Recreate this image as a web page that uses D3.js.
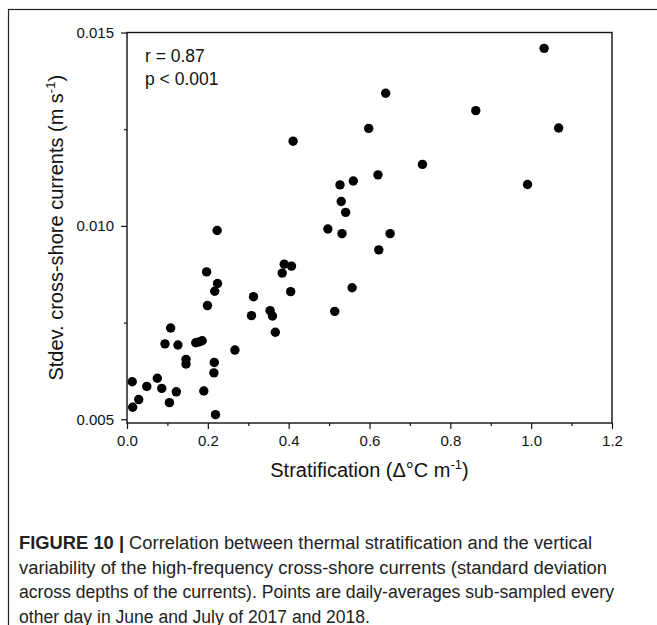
<!DOCTYPE html>
<html>
<head>
<meta charset="utf-8">
<script src="https://cdn.jsdelivr.net/npm/d3@7"></script>
<style>
  html, body { margin: 0; padding: 0; background: #fff; }
  svg { display: block; }
</style>
</head>
<body>
<svg id="chart" width="657" height="625"></svg>
<script>
// ---- data ----
const stratification = [
  0.013, 0.014, 0.029, 0.049, 0.075, 0.086, 0.105, 0.122, 0.094, 0.108,
  0.126, 0.146, 0.146, 0.170, 0.178, 0.186, 0.190, 0.197, 0.199, 0.216,
  0.215, 0.219, 0.217, 0.224, 0.223, 0.267, 0.308, 0.313, 0.354, 0.360,
  0.367, 0.384, 0.389, 0.407, 0.405, 0.411, 0.497, 0.514, 0.532, 0.527,
  0.530, 0.541, 0.557, 0.560, 0.598, 0.621, 0.623, 0.640, 0.651, 0.731,
  0.863, 0.991, 1.032, 1.068
];
const stdevCurrents = [
  0.00597, 0.00531, 0.00551, 0.00585, 0.00606, 0.00580, 0.00543, 0.00571, 0.00695, 0.00736,
  0.00692, 0.00655, 0.00643, 0.00698, 0.00700, 0.00703, 0.00573, 0.00881, 0.00794, 0.00647,
  0.00620, 0.00512, 0.00831, 0.00851, 0.00988, 0.00679, 0.00768, 0.00817, 0.00781, 0.00767,
  0.00725, 0.00878, 0.00901, 0.00896, 0.00830, 0.01219, 0.00992, 0.00779, 0.00980, 0.01106,
  0.01063, 0.01035, 0.00840, 0.01116, 0.01252, 0.01132, 0.00938, 0.01343, 0.00980, 0.01159,
  0.01298, 0.01107, 0.01459, 0.01253
];
const xMajorTicks = [0, 0.2, 0.4, 0.6, 0.8, 1.0, 1.2];
const xMinorTicks = [0.1, 0.3, 0.5, 0.7, 0.9, 1.1];
const yMajorTicks = [0.005, 0.010, 0.015];
const yMinorTicks = [0.0075, 0.0125];
const statsLines = ["r = 0.87", "p < 0.001"];
const captionLines = [
  ["FIGURE 10 |", " Correlation between thermal stratification and the vertical"],
  ["", "variability of the high-frequency cross-shore currents (standard deviation"],
  ["", "across depths of the currents). Points are daily-averages sub-sampled every"],
  ["", "other day in June and July of 2017 and 2018."]
];

(function () {
// ---- layout ----
const svg = d3.select("#chart");
const pLeft = 127, pRight = 612, pTop = 32.5, pBottom = 423;
const font = "Liberation Sans, Arial, Helvetica, sans-serif";
const captionWidths = [573, 588, 595, 351];

// outer frame
svg.append("rect")
  .attr("x", 8.5).attr("y", 9.5).attr("width", 700).attr("height", 700)
  .attr("fill", "none").attr("stroke", "#222").attr("stroke-width", 1.2);

const x = d3.scaleLinear().domain([0, 1.2]).range([pLeft, pRight]);
const y = d3.scaleLinear().domain([0.004904, 0.015]).range([pBottom, pTop]);

// x axis
const xAxis = d3.axisBottom(x).tickValues(xMajorTicks).tickSize(6).tickSizeOuter(0)
  .tickFormat(d3.format(".1f"));
const gx = svg.append("g").attr("transform", `translate(0,${pBottom})`).call(xAxis);
gx.select(".domain").remove();
gx.selectAll("text").attr("font-family", font).attr("font-size", 15).attr("fill", "#111").attr("dy", "0.93em");
gx.selectAll("line").attr("stroke", "#111").attr("stroke-width", 1.2);
const gxm = svg.append("g").attr("transform", `translate(0,${pBottom})`)
  .call(d3.axisBottom(x).tickValues(xMinorTicks).tickSize(3).tickSizeOuter(0).tickFormat(""));
gxm.select(".domain").remove();
gxm.selectAll("line").attr("stroke", "#111").attr("stroke-width", 1.2);

// y axis
const yAxis = d3.axisLeft(y).tickValues(yMajorTicks).tickSize(6).tickSizeOuter(0)
  .tickFormat(d3.format(".3f")).tickPadding(7);
const gy = svg.append("g").attr("transform", `translate(${pLeft},0)`).call(yAxis);
gy.select(".domain").remove();
gy.selectAll("text").attr("font-family", font).attr("font-size", 15).attr("fill", "#111");
gy.selectAll("line").attr("stroke", "#111").attr("stroke-width", 1.2);
const gym = svg.append("g").attr("transform", `translate(${pLeft},0)`)
  .call(d3.axisLeft(y).tickValues(yMinorTicks).tickSize(3).tickSizeOuter(0).tickFormat(""));
gym.select(".domain").remove();
gym.selectAll("line").attr("stroke", "#111").attr("stroke-width", 1.2);

// plot frame
svg.append("rect")
  .attr("x", pLeft).attr("y", pTop).attr("width", pRight - pLeft).attr("height", pBottom - pTop)
  .attr("fill", "none").attr("stroke", "#111").attr("stroke-width", 1.4);

// points
const pts = stratification.map((v, i) => ({ sx: v, sy: stdevCurrents[i] }));
svg.append("g").selectAll("circle").data(pts).join("circle")
  .attr("cx", d => x(d.sx)).attr("cy", d => y(d.sy)).attr("r", 4.7)
  .attr("fill", "#000");

// stats text
svg.append("g").selectAll("text").data(statsLines).join("text")
  .attr("x", 145).attr("y", (d, i) => 61.5 + i * 23.5)
  .attr("font-family", font).attr("font-size", 17.5).attr("fill", "#111")
  .text(d => d);

// axis titles
const xt = svg.append("text").attr("x", (pLeft + pRight) / 2).attr("y", 477)
  .attr("text-anchor", "middle").attr("font-family", font).attr("font-size", 20).attr("fill", "#111");
xt.append("tspan").text("Stratification (\u0394\u00B0C m");
xt.append("tspan").attr("font-size", 13).attr("dy", -8).text("-1");
xt.append("tspan").attr("dy", 8).text(")");

const yt = svg.append("text").attr("transform", `translate(63,${(pTop + pBottom) / 2}) rotate(-90)`)
  .attr("text-anchor", "middle").attr("font-family", font).attr("font-size", 20).attr("fill", "#111");
yt.append("tspan").text("Stdev. cross-shore currents (m s");
yt.append("tspan").attr("font-size", 13).attr("dy", -8).text("-1");
yt.append("tspan").attr("dy", 8).text(")");

// caption
const cap = svg.append("g");
captionLines.forEach((ln, i) => {
  const t = cap.append("text").attr("x", 19).attr("y", 549 + i * 24.5)
    .attr("font-family", font).attr("font-size", 18).attr("fill", "#222")
    .attr("textLength", captionWidths[i]).attr("lengthAdjust", "spacingAndGlyphs");
  if (ln[0]) t.append("tspan").attr("font-weight", "bold").text(ln[0]);
  t.append("tspan").text(ln[1]);
});
})();
</script>
</body>
</html>
